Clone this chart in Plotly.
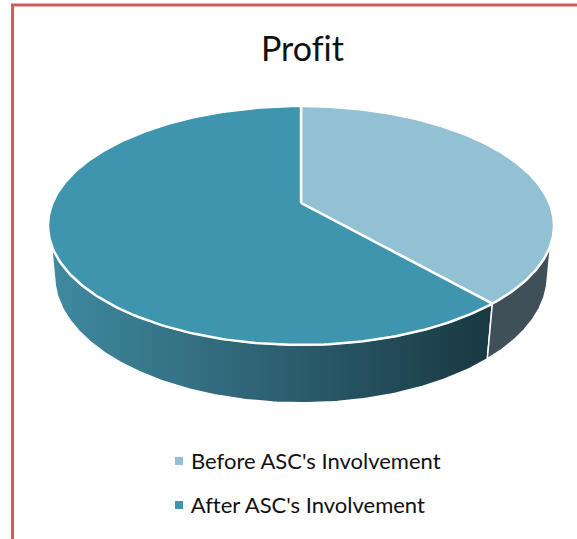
import numpy as np
import plotly.graph_objects as go

categories = ["Before ASC's Involvement", "After ASC's Involvement"]
values = [38.5, 61.5]
title = "Profit"
top_colors = ["#92C1D3", "#4095AE"]
wall_before = "#3F5058"
wall_after_scale = [[0, "#3F8AA0"], [0.45, "#2F6576"], [1, "#193842"]]

W, H = 577, 539
CX, K = 301.0, 0.188
TOP = dict(c=248.5, y0=203.0, b=-77.07)
BOT = dict(c=242.0, y0=252.0, b=-75.1)
KEY_X, KEY_TEXT_X, KEY_Y = 179, 191, [461, 505]


def project(theta, g):
    u, v = np.sin(theta), np.cos(theta)
    w = 1 + K * v
    return CX + g["c"] * u / w, (g["y0"] + g["b"] * v) / w


def arc(a, b, g, n=160):
    return project(np.linspace(a, b, n), g)


split = 2 * np.pi * values[0] / sum(values)
wall_right = np.radians(110)
wall_left = np.radians(250)
bot_right = np.radians(105)
bot_left = np.radians(255)

fig = go.Figure()

# side wall, "after" slice
tx, ty = arc(split, wall_left, TOP)
bx, by = arc(bot_left, split, BOT)
fig.add_trace(go.Scatter(
    x=np.r_[tx, bx, tx[0]], y=np.r_[ty, by, ty[0]], mode="lines", fill="toself",
    line=dict(color="white", width=1.5),
    fillgradient=dict(type="horizontal", colorscale=wall_after_scale),
    hoverinfo="skip", showlegend=False))

# side wall, "before" slice
tx, ty = arc(wall_right, split, TOP)
bx, by = arc(split, bot_right, BOT)
fig.add_trace(go.Scatter(
    x=np.r_[tx, bx, tx[0]], y=np.r_[ty, by, ty[0]], mode="lines", fill="toself",
    line=dict(color="white", width=1.5), fillcolor=wall_before,
    hoverinfo="skip", showlegend=False))

# top faces
ranges = [(0, split), (split, 2 * np.pi)]
for (a, b), col in zip(ranges, top_colors):
    ax, ay = arc(a, b, TOP, 240)
    fig.add_trace(go.Scatter(
        x=np.r_[CX, ax, CX], y=np.r_[TOP["y0"], ay, TOP["y0"]], mode="lines",
        fill="toself", fillcolor=col, line=dict(color="white", width=2.5),
        hoverinfo="skip", showlegend=False))

# key squares and labels
annotations = []
for name, col, ky in zip(categories, top_colors, KEY_Y):
    fig.add_trace(go.Scatter(
        x=[KEY_X], y=[ky], mode="markers", name=name, hoverinfo="name",
        showlegend=False, marker=dict(symbol="square", size=8, color=col)))
    annotations.append(dict(x=KEY_TEXT_X, y=ky, xref="x", yref="y", text=name,
                            showarrow=False, xanchor="left", yanchor="middle",
                            xshift=-2, yshift=1, font=dict(size=22, color="#111111")))

fig.update_layout(
    width=W, height=H, margin=dict(l=0, r=0, t=0, b=0),
    paper_bgcolor="white", plot_bgcolor="white",
    font=dict(family="Lato, Carlito, Calibri, sans-serif", color="#111111"),
    title=dict(text=title, x=302.5 / W, xanchor="center", y=1 - 49 / H, yanchor="middle",
               font=dict(size=34, color="#111111")),
    xaxis=dict(range=[0, W], visible=False, fixedrange=True),
    yaxis=dict(range=[H, 0], visible=False, fixedrange=True),
    showlegend=False,
    annotations=annotations,
    shapes=[dict(type="rect", xref="paper", yref="paper",
                 x0=12.5 / W, x1=1.2, y0=-0.2, y1=1 - 5 / H,
                 line=dict(color="#CF5F5E", width=3))],
)

page_style = ("var s=document.createElement('style');"
              "s.textContent='html,body{margin:0;overflow:hidden}"
              "text{font-variant-ligatures:none!important;font-feature-settings:\"liga\" 0!important}';"
              "document.head.appendChild(s);")
fig.write_html("out.html", post_script=page_style, config=dict(displayModeBar=False))
